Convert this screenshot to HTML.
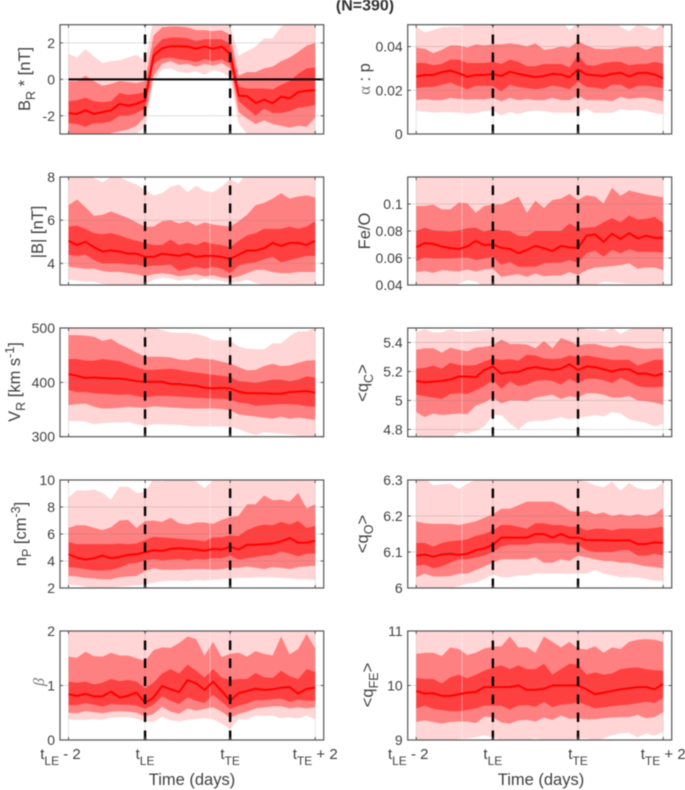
<!DOCTYPE html>
<html>
<head>
<meta charset="utf-8">
<title>Stream interface superposed epoch panels (N=390)</title>
<style>
html,body{margin:0;padding:0;background:#fff;overflow:hidden;}
svg{display:block;filter:blur(0.45px);}
text{font-family:"Liberation Sans",sans-serif;fill:#404040;}
</style>
</head>
<body>
<svg id="chart" xmlns="http://www.w3.org/2000/svg" width="685" height="790" viewBox="0 0 685 790">
  <rect width="685" height="790" fill="#fff"/>
  <g id="panels"></g>
  <text x="365" y="10.5" text-anchor="middle" font-size="16" font-weight="bold" style="fill:#333">(N=390)</text>
  <text transform="translate(30 79) rotate(-90)" text-anchor="middle" font-size="16.5">B<tspan font-size="12.5" dy="5">R</tspan><tspan dy="-5"> * [nT]</tspan></text>
  <text transform="translate(43 232) rotate(-90)" text-anchor="middle" font-size="16.5">|B| [nT]</text>
  <text transform="translate(20 382) rotate(-90)" text-anchor="middle" font-size="16.5">V<tspan font-size="12.5" dy="5">R</tspan><tspan dy="-5"> [km s</tspan><tspan font-size="12.5" dy="-6">-1</tspan><tspan dy="6">]</tspan></text>
  <text transform="translate(26 534) rotate(-90)" text-anchor="middle" font-size="16.5">n<tspan font-size="12.5" dy="5">P</tspan><tspan dy="-5"> [cm</tspan><tspan font-size="12.5" dy="-6">-3</tspan><tspan dy="6">]</tspan></text>
  <text transform="translate(44 682) rotate(-90)" text-anchor="middle" font-size="16" font-style="italic" style="font-family:'Liberation Serif',serif;fill:#777">β</text>
  <text transform="translate(370 79) rotate(-90)" text-anchor="middle" font-size="16.5"><tspan style="font-family:'Liberation Serif',serif;fill:#777">α</tspan> : p</text>
  <text transform="translate(370 231) rotate(-90)" text-anchor="middle" font-size="16.5">Fe/O</text>
  <text transform="translate(368 383) rotate(-90)" text-anchor="middle" font-size="16.5">&lt;q<tspan font-size="12.5" dy="5">C</tspan><tspan dy="-5">&gt;</tspan></text>
  <text transform="translate(368 534) rotate(-90)" text-anchor="middle" font-size="16.5">&lt;q<tspan font-size="12.5" dy="5">O</tspan><tspan dy="-5">&gt;</tspan></text>
  <text transform="translate(373 685) rotate(-90)" text-anchor="middle" font-size="16.5">&lt;q<tspan font-size="12.5" dy="5">FE</tspan><tspan dy="-5">&gt;</tspan></text>
  <text x="192" y="785" text-anchor="middle" font-size="16.5">Time (days)</text>
  <text x="541" y="785" text-anchor="middle" font-size="16.5">Time (days)</text>
</svg>
<script>
// ---- shared axis categories ----
const xTickBins = [0, 9, 19, 29];
const xTickBase = ['t', 't', 't', 't'];
const xTickSub = ['LE', 'LE', 'TE', 'TE'];
const xTickSuffix = [' - 2', '', '', ' + 2'];
const boundaryBins = [9, 19];

// ---- BR* ----
const brTicks = [-2, 0, 2];
const brMedian = [-1.85,-1.9,-1.7,-1.9,-1.8,-1.7,-1.35,-1.45,-1.35,-1.15,1.3,1.7,1.82,1.82,1.8,1.68,1.8,1.68,1.8,1.4,-0.9,-0.92,-1.3,-1.12,-1.3,-0.95,-1.05,-0.7,-0.62,-0.6];
const brDarkHi = [-1.2,-1.15,-1.0,-1.2,-1.25,-1.2,-0.75,-0.85,-0.8,-0.7,1.7,2.2,2.3,2.3,2.25,2.1,2.2,2.2,2.2,1.95,-0.4,-0.5,-0.5,-0.5,-0.55,-0.3,-0.1,0.3,0.6,0.65];
const brDarkLo = [-2.4,-2.45,-2.6,-2.4,-2.4,-2.3,-2.0,-2.0,-1.85,-1.6,0.85,1.15,1.2,1.1,1.05,0.95,1.1,1.0,1.1,0.85,-1.2,-1.6,-2,-1.6,-1.85,-1.85,-1.75,-1.55,-1.5,-1.4];
const brMidHi = [-0.1,-0.1,0.2,-0.1,-0.35,-0.25,-0.1,-0.15,-0.2,-0.1,2.4,2.85,2.9,2.9,2.85,2.7,2.7,2.65,2.7,2.45,0.2,0.4,0.4,0.6,0.7,1.0,1.2,1.5,1.85,2.0];
const brMidLo = [-3.2,-3.2,-3.2,-3.2,-3.1,-2.95,-2.85,-2.75,-2.55,-2.05,0.2,0.85,1.0,0.8,0.85,0.7,0.85,0.75,0.9,0.6,-1.8,-2.15,-2.45,-2.25,-2.45,-2.55,-2.65,-2.55,-2.6,-2.1];
const brLightHi = [1.4,1.2,1.65,1.25,0.9,1.0,1.05,1.2,1.35,1.0,3.3,3.5,3.5,3.5,3.5,3.5,3.5,3.5,3.5,3.0,1.3,1.55,1.8,2.25,2.25,2.9,3.1,3.1,3.1,3.1];
const brLightLo = [-3.8,-3.8,-3.7,-3.6,-3.4,-3.3,-3.2,-3.1,-3.0,-2.6,-0.1,0.55,0.6,0.4,0.35,0.45,0.25,0.5,0.4,0.1,-2.4,-3,-3.4,-3.5,-3.5,-3.5,-3.5,-3.5,-3.5,-3.5];

// ---- |B| ----
const bTicks = [4, 6, 8];
const bMedian = [5.05,4.85,5.0,4.75,4.55,4.6,4.55,4.45,4.45,4.3,4.3,4.45,4.4,4.35,4.45,4.3,4.35,4.35,4.3,4.2,4.4,4.6,4.6,4.7,4.95,4.8,4.95,4.95,4.85,5.05];
const bDarkHi = [5.7,5.75,5.6,5.4,5.35,5.4,5.3,5.15,5.05,4.95,4.85,4.85,5.1,4.85,4.95,4.85,5.0,4.9,4.85,4.75,5.05,5.3,5.4,5.6,5.6,5.6,5.7,5.6,5.7,5.95];
const bDarkLo = [4.4,4.35,4.4,4.15,4.0,4.0,4.0,3.95,3.95,3.85,3.9,3.9,3.95,3.65,3.75,3.85,3.75,3.85,3.75,3.55,3.9,4.0,4.05,4.2,4.3,4.05,4.15,4.25,4.35,4.35];
const bMidHi = [6.7,6.95,6.6,6.2,6.25,6.4,6.25,6.1,5.9,5.7,5.7,5.95,6.0,5.85,5.95,5.75,5.9,5.8,5.75,5.7,5.95,6.25,6.7,6.8,7.0,7.25,7.0,7.1,7.15,7.05];
const bMidLo = [3.85,3.8,3.75,3.75,3.65,3.6,3.6,3.55,3.5,3.4,3.5,3.55,3.5,3.4,3.45,3.5,3.4,3.45,3.35,3.3,3.4,3.55,3.7,3.7,3.6,3.55,3.55,3.6,3.6,3.6];
const bLightHi = [8.3,8.3,8.1,7.95,7.75,8.0,8.0,7.8,7.65,7.4,7.15,7.25,7.55,7.65,7.3,7.6,7.35,7.3,7.55,7.9,7.7,8.2,8.3,8.3,8.3,8.3,8.3,8.3,8.3,8.3];
const bLightLo = [3.25,3.2,3.15,3.15,3.05,3.0,2.95,2.95,2.95,3.05,3.25,3.35,3.3,3.2,3.3,3.2,3.3,3.25,3.2,3.1,3.15,3.25,3.1,3.0,2.95,2.95,2.95,2.95,2.95,2.95];

// ---- VR ----
const vrTicks = [300, 400, 500];
const vrMedian = [415,412,408,409,408,407,407,405,402,401,401,401,397,397,395,394,390,389,390,389,383,380,380,380,379,379,382,383,384,381];
const vrDarkHi = [443,443,440,440,443,441,439,433,428,423,423,424,425,423,420,418,416,414,412,410,402,401,399,402,405,405,402,405,411,409];
const vrDarkLo = [386,382,382,380,379,378,377,378,375,372,375,375,375,374,373,372,371,370,370,368,363,361,357,358,359,360,360,359,356,355];
const vrMidHi = [487,487,486,484,476,480,470,463,455,447,447,447,446,442,441,445,443,442,438,435,428,422,423,430,434,430,431,436,440,441];
const vrMidLo = [358,360,361,355,352,352,353,355,354,353,356,355,354,353,352,352,352,352,351,349,341,339,337,335,333,337,333,335,333,331];
const vrLightHi = [510,510,510,510,510,510,510,510,510,510,500,496,492,491,491,489,485,478,477,477,466,462,461,461,472,472,485,494,494,500];
const vrLightLo = [329,329,328,323,325,326,326,327,323,320,323,323,322,322,320,319,319,319,319,318,314,308,303,308,307,306,304,302,300,298];

// ---- nP ----
const npTicks = [2, 4, 6, 8, 10];
const npMedian = [4.5,4.25,4.1,4.2,4.4,4.2,4.3,4.45,4.5,4.65,4.8,4.75,4.9,4.95,4.9,4.85,4.75,4.9,4.85,5.05,4.85,5.2,5.2,5.25,5.3,5.45,5.7,5.35,5.35,5.5];
const npDarkHi = [5.4,5.25,5.25,5.25,5.25,5.25,5.3,5.25,5.3,5.55,5.8,5.75,5.7,5.65,5.6,5.55,5.45,5.75,5.75,5.9,5.85,6.3,6.55,6.7,6.65,6.9,6.7,6.95,6.45,6.6];
const npDarkLo = [3.55,3.5,3.4,3.3,3.3,3.35,3.5,3.8,3.85,4.05,4.15,4.05,4.1,4.15,4.05,4.15,4.1,4.2,4.2,4.4,4.1,4.2,4.3,4.4,4.45,4.7,4.55,4.35,4.55,4.55];
const npMidHi = [6.45,6.65,6.65,6.45,6.3,6.5,7.0,7.05,6.45,6.95,7.0,6.9,7.2,6.8,6.7,6.85,6.85,6.75,7.05,7.25,7.35,8.2,8.2,8.85,8.5,8.55,8.4,9.05,7.9,8.2];
const npMidLo = [2.9,2.85,2.75,2.7,2.65,2.65,2.8,2.85,2.9,3.25,3.45,3.35,3.35,3.35,3.4,3.4,3.4,3.35,3.4,3.5,3.5,3.6,3.5,3.4,3.55,3.5,3.4,3.55,3.6,3.65];
const npLightHi = [8.7,9.25,9.2,9.3,9.05,8.55,9.5,9.5,9.05,9.1,10.1,9.9,10.1,10.1,10.1,9.9,9.4,10,10.1,10.2,10.2,10.2,10.2,10.2,10.2,10.2,10.2,10.2,10.2,10.2];
const npLightLo = [2.25,2.2,2.1,1.95,2.0,2.05,2.1,2.15,2.2,2.25,2.4,2.5,2.55,2.55,2.5,2.6,2.55,2.6,2.65,2.7,2.75,2.75,2.8,2.8,2.8,2.75,2.7,2.65,2.65,2.6];

// ---- beta ----
const betaTicks = [0, 1, 2];
const betaMedian = [0.84,0.81,0.85,0.8,0.8,0.89,0.78,0.81,0.87,0.68,0.78,0.99,0.93,0.88,1.1,1.04,0.92,1.07,0.9,0.72,0.86,0.9,0.94,0.92,0.93,0.96,0.97,0.85,0.94,0.96];
const betaDarkHi = [1.07,1.05,1.07,1.02,1.05,1.12,1.08,1.1,1.07,0.95,1.05,1.22,1.3,1.22,1.38,1.27,1.15,1.3,1.15,1.1,1.12,1.12,1.23,1.15,1.14,1.27,1.17,1.12,1.3,1.25];
const betaDarkLo = [0.64,0.64,0.68,0.65,0.61,0.66,0.65,0.65,0.63,0.57,0.65,0.8,0.72,0.66,0.78,0.72,0.68,0.83,0.7,0.57,0.63,0.67,0.73,0.73,0.75,0.76,0.7,0.74,0.72,0.72];
const betaMidHi = [1.53,1.51,1.62,1.54,1.53,1.6,1.55,1.55,1.5,1.45,1.65,1.7,1.69,1.78,1.9,1.85,1.55,1.8,1.52,1.58,1.6,1.53,1.63,1.58,1.55,1.9,1.57,1.67,1.95,1.68];
const betaMidLo = [0.5,0.49,0.53,0.51,0.49,0.52,0.53,0.52,0.5,0.43,0.48,0.61,0.52,0.48,0.58,0.54,0.57,0.6,0.52,0.41,0.48,0.52,0.58,0.6,0.62,0.62,0.58,0.6,0.58,0.6];
const betaLightHi = [2.2,2.2,2.2,2.2,2.2,2.2,2.2,2.2,2.2,2.2,2.2,2.2,2.2,2.2,2.2,2.2,2.2,2.2,2.2,2.2,2.2,2.2,2.2,2.2,2.2,2.2,2.2,2.2,2.2,2.2];
const betaLightLo = [0.38,0.37,0.37,0.38,0.37,0.41,0.42,0.42,0.39,0.34,0.33,0.43,0.36,0.34,0.37,0.39,0.4,0.38,0.3,0.2,0.38,0.38,0.45,0.44,0.45,0.4,0.42,0.4,0.45,0.38];

// ---- alpha : p ----
const apTicks = [0, 0.02, 0.04];
const apMedian = [0.0263,0.027,0.027,0.0283,0.029,0.0278,0.0262,0.027,0.027,0.0275,0.0265,0.0285,0.0275,0.0267,0.026,0.0265,0.0275,0.0272,0.026,0.0295,0.0272,0.0268,0.0265,0.0275,0.028,0.0263,0.0278,0.028,0.0272,0.0255];
const apDarkHi = [0.0325,0.0325,0.0315,0.032,0.034,0.034,0.0325,0.0325,0.0325,0.033,0.032,0.034,0.033,0.031,0.031,0.032,0.032,0.032,0.0305,0.036,0.0315,0.0313,0.0325,0.033,0.033,0.0315,0.032,0.032,0.033,0.0322];
const apDarkLo = [0.021,0.0215,0.0215,0.0225,0.0235,0.022,0.0205,0.022,0.022,0.022,0.0195,0.0225,0.0215,0.021,0.0205,0.021,0.0222,0.0215,0.0205,0.024,0.0215,0.0212,0.0205,0.0225,0.0225,0.0205,0.022,0.0222,0.0215,0.021];
const apMidHi = [0.0395,0.039,0.037,0.0385,0.0405,0.0405,0.0395,0.041,0.0405,0.041,0.041,0.0415,0.041,0.04,0.0415,0.0385,0.039,0.04,0.0395,0.0425,0.0405,0.039,0.0388,0.0388,0.0395,0.0398,0.04,0.0385,0.04,0.0402];
const apMidLo = [0.0155,0.016,0.0155,0.0155,0.0165,0.016,0.0158,0.016,0.0158,0.0165,0.015,0.0165,0.0155,0.016,0.0155,0.0155,0.0165,0.0155,0.0155,0.0175,0.0155,0.0155,0.0155,0.015,0.017,0.016,0.0165,0.0165,0.0158,0.015];
const apLightHi = [0.049,0.0465,0.0475,0.0488,0.049,0.049,0.05,0.052,0.052,0.052,0.052,0.052,0.052,0.052,0.052,0.052,0.052,0.052,0.0475,0.051,0.052,0.052,0.052,0.052,0.049,0.047,0.05,0.049,0.0475,0.051];
const apLightLo = [0.0105,0.0103,0.0098,0.01,0.01,0.0098,0.0093,0.0096,0.0105,0.0107,0.0085,0.01,0.0092,0.0103,0.0107,0.0105,0.0098,0.0097,0.0097,0.0098,0.0115,0.0096,0.0097,0.0097,0.0113,0.0108,0.011,0.0106,0.0095,0.009];

// ---- Fe/O ----
const feTicks = [0.04, 0.06, 0.08, 0.1];
const feMedian = [0.068,0.071,0.0705,0.0685,0.0673,0.0667,0.0685,0.0727,0.0695,0.07,0.0675,0.0668,0.0635,0.066,0.069,0.0672,0.0652,0.069,0.0678,0.0675,0.0765,0.0775,0.072,0.078,0.074,0.0785,0.0745,0.0765,0.0748,0.075];
const feDarkHi = [0.08,0.0825,0.0805,0.08,0.0795,0.0805,0.082,0.0825,0.0795,0.0815,0.0805,0.08,0.0765,0.076,0.08,0.08,0.08,0.08,0.0855,0.082,0.0825,0.083,0.0865,0.0895,0.0865,0.0915,0.0885,0.089,0.0905,0.086];
const feDarkLo = [0.0575,0.0605,0.0595,0.0595,0.0595,0.06,0.0605,0.0585,0.0595,0.061,0.055,0.057,0.0535,0.0535,0.0535,0.056,0.0565,0.0565,0.0585,0.0565,0.0635,0.0655,0.061,0.066,0.0635,0.0665,0.0645,0.0645,0.0645,0.064];
const feMidHi = [0.0985,0.0985,0.0995,0.096,0.096,0.101,0.1005,0.0935,0.0985,0.0995,0.0995,0.1025,0.1055,0.0935,0.1025,0.097,0.103,0.104,0.1075,0.103,0.1065,0.1055,0.1005,0.112,0.106,0.11,0.1085,0.107,0.106,0.105];
const feMidLo = [0.0495,0.0505,0.049,0.051,0.0505,0.05,0.0515,0.05,0.0515,0.052,0.046,0.047,0.048,0.046,0.0485,0.0465,0.047,0.047,0.0495,0.0475,0.051,0.053,0.0535,0.054,0.0548,0.056,0.052,0.053,0.053,0.051];
const feLightHi = [0.125,0.125,0.125,0.125,0.125,0.125,0.125,0.125,0.125,0.125,0.125,0.125,0.125,0.125,0.125,0.125,0.125,0.125,0.125,0.125,0.125,0.125,0.125,0.125,0.125,0.125,0.125,0.125,0.125,0.125];
const feLightLo = [0.038,0.038,0.038,0.038,0.039,0.041,0.0435,0.0425,0.039,0.038,0.038,0.038,0.038,0.039,0.039,0.039,0.039,0.039,0.039,0.039,0.039,0.04,0.0425,0.042,0.0415,0.041,0.041,0.041,0.041,0.04];

// ---- <qC> ----
const qcTicks = [4.8, 5, 5.2, 5.4];
const qcMedian = [5.135,5.125,5.13,5.135,5.145,5.165,5.165,5.16,5.21,5.235,5.185,5.195,5.197,5.22,5.23,5.22,5.21,5.22,5.25,5.21,5.235,5.23,5.215,5.2,5.215,5.215,5.185,5.185,5.17,5.185];
const qcDarkHi = [5.22,5.225,5.24,5.22,5.26,5.245,5.24,5.245,5.27,5.29,5.28,5.285,5.275,5.315,5.31,5.29,5.285,5.29,5.31,5.3,5.31,5.3,5.29,5.28,5.28,5.28,5.24,5.26,5.28,5.28];
const qcDarkLo = [5.04,5.03,5.02,5.01,5.045,5.05,5.045,5.07,5.1,5.14,5.08,5.13,5.1,5.11,5.135,5.14,5.135,5.11,5.15,5.12,5.15,5.15,5.14,5.12,5.155,5.13,5.1,5.09,5.09,5.095];
const qcMidHi = [5.35,5.36,5.36,5.33,5.365,5.35,5.34,5.365,5.37,5.38,5.42,5.39,5.39,5.385,5.36,5.41,5.36,5.43,5.41,5.38,5.39,5.39,5.375,5.365,5.38,5.375,5.36,5.355,5.36,5.36];
const qcMidLo = [4.92,4.885,4.91,4.9,4.905,4.91,4.905,4.965,4.985,5.02,4.98,5.0,5.0,4.995,5.02,5.03,5.04,5.01,5.03,5.02,5.05,5.05,5.04,5.02,5.02,5.03,5.0,4.995,4.985,4.97];
const qcLightHi = [5.475,5.49,5.47,5.47,5.49,5.475,5.475,5.48,5.485,5.49,5.51,5.51,5.52,5.5,5.5,5.51,5.5,5.51,5.5,5.51,5.49,5.49,5.475,5.5,5.46,5.49,5.51,5.51,5.51,5.51];
const qcLightLo = [4.72,4.72,4.72,4.74,4.74,4.78,4.77,4.79,4.82,4.9,4.9,4.84,4.8,4.85,4.86,4.86,4.87,4.885,4.87,4.88,4.89,4.9,4.89,4.92,4.91,4.87,4.855,4.845,4.82,4.84];

// ---- <qO> ----
const qoTicks = [6, 6.1, 6.2, 6.3];
const qoMedian = [6.09,6.093,6.087,6.093,6.095,6.092,6.095,6.105,6.11,6.12,6.14,6.14,6.14,6.14,6.15,6.15,6.14,6.15,6.14,6.14,6.133,6.133,6.133,6.132,6.132,6.133,6.122,6.122,6.127,6.125];
const qoDarkHi = [6.125,6.125,6.115,6.125,6.13,6.132,6.135,6.145,6.15,6.16,6.175,6.175,6.17,6.165,6.18,6.18,6.175,6.175,6.17,6.17,6.16,6.165,6.165,6.16,6.165,6.165,6.165,6.165,6.167,6.17];
const qoDarkLo = [6.062,6.065,6.055,6.06,6.07,6.08,6.08,6.085,6.09,6.1,6.115,6.12,6.12,6.12,6.125,6.125,6.125,6.125,6.12,6.12,6.105,6.1,6.1,6.1,6.105,6.105,6.09,6.09,6.095,6.09];
const qoMidHi = [6.185,6.18,6.178,6.178,6.178,6.175,6.18,6.185,6.195,6.205,6.22,6.22,6.23,6.24,6.24,6.24,6.24,6.23,6.215,6.21,6.215,6.205,6.21,6.2,6.205,6.2,6.205,6.2,6.205,6.222];
const qoMidLo = [6.03,6.04,6.032,6.032,6.033,6.04,6.04,6.05,6.06,6.07,6.08,6.08,6.08,6.08,6.085,6.07,6.07,6.08,6.075,6.09,6.085,6.08,6.075,6.075,6.07,6.07,6.065,6.06,6.058,6.055];
const qoLightHi = [6.31,6.305,6.285,6.288,6.29,6.275,6.29,6.3,6.3,6.305,6.32,6.32,6.32,6.32,6.32,6.32,6.32,6.32,6.32,6.3,6.295,6.285,6.28,6.295,6.27,6.292,6.277,6.273,6.275,6.292];
const qoLightLo = [5.995,5.995,5.995,5.995,6.0,6.005,6.012,6.015,6.025,6.037,6.03,6.03,6.035,6.035,6.04,6.04,6.04,6.04,6.04,6.04,6.04,6.05,6.04,6.035,6.03,6.03,6.03,6.025,6.02,6.02];

// ---- <qFe> ----
const qfTicks = [9, 10, 11];
const qfMedian = [9.9,9.85,9.86,9.81,9.81,9.84,9.87,9.88,9.97,9.97,9.97,9.97,10.0,9.92,9.92,9.94,10.0,10.0,10.0,10.0,9.93,9.84,9.87,9.9,9.93,9.95,9.97,9.97,9.93,10.03];
const qfDarkHi = [10.14,10.12,10.12,10.04,10.15,10.2,10.13,10.2,10.27,10.33,10.37,10.3,10.37,10.3,10.3,10.4,10.2,10.3,10.4,10.38,10.2,10.24,10.2,10.22,10.3,10.32,10.33,10.3,10.28,10.27];
const qfDarkLo = [9.58,9.63,9.57,9.55,9.53,9.53,9.55,9.58,9.63,9.63,9.63,9.56,9.63,9.64,9.61,9.7,9.6,9.65,9.66,9.7,9.64,9.58,9.6,9.62,9.64,9.65,9.68,9.7,9.68,9.77];
const qfMidHi = [10.58,10.6,10.6,10.54,10.7,10.67,10.56,10.6,10.68,10.71,10.72,10.9,10.7,10.7,10.6,10.9,10.8,10.7,10.8,10.68,10.66,10.72,10.6,10.7,10.67,10.8,10.84,10.85,10.84,10.8];
const qfMidLo = [9.33,9.36,9.33,9.3,9.33,9.34,9.34,9.31,9.43,9.42,9.32,9.3,9.36,9.37,9.34,9.41,9.37,9.45,9.39,9.4,9.38,9.38,9.4,9.41,9.42,9.42,9.46,9.4,9.42,9.51];
const qfLightHi = [11.2,11.2,11.2,11.2,11.2,11.2,11.2,11.2,11.2,11.2,11.2,11.2,11.2,11.2,11.2,11.2,11.2,11.2,11.2,11.2,11.2,11.2,11.2,11.2,11.2,11.2,11.2,11.2,11.2,11.2];
const qfLightLo = [8.98,9.0,9.0,8.97,8.98,9.02,9.03,9.05,9.09,9.05,9.0,9.0,9.0,9.0,9.03,9.0,9.0,9.0,9.0,9.03,9.03,9.0,9.03,9.09,9.12,9.13,9.05,9.12,9.08,9.15];

// ---- figure layout ----
const NS = 'http://www.w3.org/2000/svg';
const root = document.getElementById('panels');
const columns = [{left: 60, width: 263.7, seam: 210}, {left: 407.7, width: 264, seam: 462}];
const rows = [{top: 24.7, bottom: 134}, {top: 177, bottom: 285}, {top: 328, bottom: 436.7}, {top: 480, bottom: 588}, {top: 631, bottom: 740}];
const panels = [
  {id: 'br', col: 0, row: 0, ymin: -3, ymax: 3, ticks: brTicks, med: brMedian, dh: brDarkHi, dl: brDarkLo, mh: brMidHi, ml: brMidLo, lh: brLightHi, ll: brLightLo, zero: true},
  {id: 'b', col: 0, row: 1, ymin: 3, ymax: 8, ticks: bTicks, med: bMedian, dh: bDarkHi, dl: bDarkLo, mh: bMidHi, ml: bMidLo, lh: bLightHi, ll: bLightLo},
  {id: 'vr', col: 0, row: 2, ymin: 300, ymax: 500, ticks: vrTicks, med: vrMedian, dh: vrDarkHi, dl: vrDarkLo, mh: vrMidHi, ml: vrMidLo, lh: vrLightHi, ll: vrLightLo},
  {id: 'np', col: 0, row: 3, ymin: 2, ymax: 10, ticks: npTicks, med: npMedian, dh: npDarkHi, dl: npDarkLo, mh: npMidHi, ml: npMidLo, lh: npLightHi, ll: npLightLo},
  {id: 'beta', col: 0, row: 4, ymin: 0, ymax: 2, ticks: betaTicks, med: betaMedian, dh: betaDarkHi, dl: betaDarkLo, mh: betaMidHi, ml: betaMidLo, lh: betaLightHi, ll: betaLightLo},
  {id: 'alpha-p', col: 1, row: 0, ymin: 0, ymax: 0.05, ticks: apTicks, med: apMedian, dh: apDarkHi, dl: apDarkLo, mh: apMidHi, ml: apMidLo, lh: apLightHi, ll: apLightLo},
  {id: 'fe-o', col: 1, row: 1, ymin: 0.04, ymax: 0.12, ticks: feTicks, med: feMedian, dh: feDarkHi, dl: feDarkLo, mh: feMidHi, ml: feMidLo, lh: feLightHi, ll: feLightLo},
  {id: 'qc', col: 1, row: 2, ymin: 4.75, ymax: 5.5, ticks: qcTicks, med: qcMedian, dh: qcDarkHi, dl: qcDarkLo, mh: qcMidHi, ml: qcMidLo, lh: qcLightHi, ll: qcLightLo},
  {id: 'qo', col: 1, row: 3, ymin: 6, ymax: 6.3, ticks: qoTicks, med: qoMedian, dh: qoDarkHi, dl: qoDarkLo, mh: qoMidHi, ml: qoMidLo, lh: qoLightHi, ll: qoLightLo},
  {id: 'qfe', col: 1, row: 4, ymin: 9, ymax: 11, ticks: qfTicks, med: qfMedian, dh: qfDarkHi, dl: qfDarkLo, mh: qfMidHi, ml: qfMidLo, lh: qfLightHi, ll: qfLightLo}
];

function make(tag, attrs, parent) {
  const node = document.createElementNS(NS, tag);
  for (const key in attrs) node.setAttribute(key, attrs[key]);
  parent.appendChild(node);
  return node;
}

panels.forEach(function (p) {
  const c = columns[p.col];
  const r = rows[p.row];
  const x = function (i) { return c.left + (i + 1) * c.width / 31; };
  const y = function (v) { return r.bottom - (v - p.ymin) / (p.ymax - p.ymin) * (r.bottom - r.top); };

  const g = make('g', {}, root);
  
  

  const clip = make('clipPath', {id: 'clip-' + p.id}, g);
  make('rect', {x: c.left, y: r.top, width: c.width, height: r.bottom - r.top}, clip);
  const plot = make('g', {'clip-path': 'url(#clip-' + p.id + ')'}, g);

  const bandDefs = [
    {name: 'outer', hi: p.lh, lo: p.ll, fill: '#ffd5d5'},
    {name: 'middle', hi: p.mh, lo: p.ml, fill: '#ff8080'},
    {name: 'inner', hi: p.dh, lo: p.dl, fill: '#ff4040'}
  ];
  bandDefs.forEach(function (b) {
    const upper = b.hi.map(function (v, i) { return x(i).toFixed(2) + ',' + y(v).toFixed(2); });
    const lower = b.lo.map(function (v, i) { return x(i).toFixed(2) + ',' + y(v).toFixed(2); }).reverse();
    const poly = make('polygon', {points: upper.concat(lower).join(' '), fill: b.fill}, plot);
    
    
  });

  // faint grid over the bands
  p.ticks.forEach(function (t) {
    const gl = make('line', {x1: c.left, x2: c.left + c.width, y1: y(t), y2: y(t), stroke: '#808080', 'stroke-opacity': 0.25, 'stroke-width': 1}, plot);
    
    
  });
  xTickBins.forEach(function (t) {
    const gv = make('line', {x1: x(t), x2: x(t), y1: r.top, y2: r.bottom, stroke: '#808080', 'stroke-opacity': 0.2, 'stroke-width': 1}, plot);
    
    
  });
  const seam = make('line', {x1: c.seam, x2: c.seam, y1: r.top, y2: r.bottom, stroke: '#fff', 'stroke-opacity': 0.4, 'stroke-width': 1}, plot);
  
  

  const medPts = p.med.map(function (v, i) { return x(i).toFixed(2) + ',' + y(v).toFixed(2); }).join(' ');
  const med = make('polyline', {points: medPts, fill: 'none', stroke: '#ff0000', 'stroke-width': 2, 'stroke-linejoin': 'round'}, plot);
  
  

  if (p.zero) {
    const zero = make('line', {x1: x(0), x2: c.left + c.width, y1: y(0), y2: y(0), stroke: '#000', 'stroke-width': 2}, plot);
    
    
  }

  boundaryBins.forEach(function (t) {
    const d = make('line', {x1: x(t), x2: x(t), y1: r.bottom, y2: r.top, stroke: '#000', 'stroke-width': 2.4, 'stroke-dasharray': '9.5 8.5'}, plot);
    
    
  });

  const box = make('rect', {x: c.left, y: r.top, width: c.width, height: r.bottom - r.top, fill: 'none', stroke: '#555', 'stroke-width': 1.2}, g);
  
  

  p.ticks.forEach(function (t) {
    make('line', {x1: c.left, x2: c.left + 3, y1: y(t), y2: y(t), stroke: '#555'}, g);
    make('line', {x1: c.left + c.width - 3, x2: c.left + c.width, y1: y(t), y2: y(t), stroke: '#555'}, g);
    const lab = make('text', {x: c.left - 5, y: y(t) + 5, 'text-anchor': 'end', 'font-size': 14}, g);
    lab.textContent = String(t);
    
    
  });
  xTickBins.forEach(function (t, i) {
    make('line', {x1: x(t), x2: x(t), y1: r.bottom - 3, y2: r.bottom, stroke: '#555'}, g);
    make('line', {x1: x(t), x2: x(t), y1: r.top, y2: r.top + 3, stroke: '#555'}, g);
    if (p.row === 4) {
      const lab = make('text', {x: x(t) - (i === 0 ? 8 : 0), y: 759, 'text-anchor': 'middle', 'font-size': 15}, g);
      
      
      lab.appendChild(document.createTextNode(xTickBase[i]));
      const sub = make('tspan', {'font-size': 12, dy: 6}, lab);
      sub.textContent = xTickSub[i];
      if (xTickSuffix[i]) {
        const suf = make('tspan', {dy: -6}, lab);
        suf.setAttribute('xml:space', 'preserve');
        suf.style.whiteSpace = 'pre';
        suf.textContent = xTickSuffix[i];
      }
    }
  });
});
</script>
</body>
</html>
